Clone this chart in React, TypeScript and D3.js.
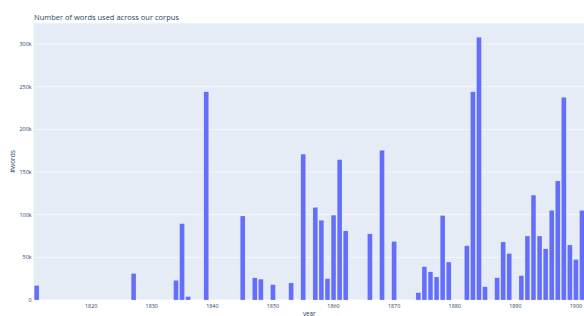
import React, { useEffect, useRef } from 'react';
import * as d3 from 'd3';

const years = [1811, 1827, 1834, 1835, 1836, 1839, 1845, 1847, 1848, 1850, 1853, 1855, 1857, 1858, 1859, 1860, 1861, 1862, 1866, 1868, 1870, 1874, 1875, 1876, 1877, 1878, 1879, 1882, 1883, 1884, 1885, 1887, 1888, 1889, 1891, 1892, 1893, 1894, 1895, 1896, 1897, 1898, 1899, 1900, 1901];
const words = [17000, 31000, 23000, 89500, 4000, 244000, 98500, 26000, 24500, 18000, 20000, 171000, 108500, 93500, 25000, 99500, 164500, 81000, 77500, 175500, 68500, 8500, 39000, 33000, 27000, 99000, 44500, 63500, 244000, 308000, 15500, 26000, 68000, 54500, 28500, 75000, 123000, 75000, 60000, 105000, 139500, 237500, 64500, 47500, 105000];
const xTicks = [1820, 1830, 1840, 1850, 1860, 1870, 1880, 1890, 1900];
const yTicks = [0, 50000, 100000, 150000, 200000, 250000, 300000];

const App: React.FC = () => {
  const svgRef = useRef<SVGSVGElement | null>(null);

  useEffect(() => {
    const width = 584;
    const height = 316;
    const marginTop = 23.3;
    const marginRight = -1;
    const marginBottom = 16;
    const marginLeft = 33.6;
    const font = '"Open Sans", verdana, arial, sans-serif';
    const textColor = '#2a3f5f';

    const svg = d3.select(svgRef.current);
    svg.selectAll('*').remove();
    svg.attr('viewBox', [0, 0, width, height]);

    const x = d3.scaleLinear()
      .domain([1810.5, 1901.5])
      .range([marginLeft, width - marginRight]);
    const y = d3.scaleLinear()
      .domain([0, 324300])
      .range([height - marginBottom, marginTop]);

    const step = x(1) - x(0);
    const bw = step * 0.8;

    // plot background
    svg.append('rect')
      .attr('x', marginLeft)
      .attr('y', marginTop)
      .attr('width', width - marginRight - marginLeft)
      .attr('height', height - marginBottom - marginTop)
      .attr('fill', '#E5ECF6');

    // grid
    svg.append('g')
      .selectAll('line')
      .data(yTicks)
      .join('line')
      .attr('x1', marginLeft)
      .attr('x2', width - marginRight)
      .attr('y1', d => y(d))
      .attr('y2', d => y(d))
      .attr('stroke', 'white')
      .attr('stroke-width', d => d === 0 ? 1 : 0.6);

    // bars
    svg.append('g')
      .selectAll('rect')
      .data(years.map((yr, i) => ({ yr, v: words[i] })))
      .join('rect')
      .attr('x', d => x(d.yr) - bw / 2)
      .attr('y', d => y(d.v))
      .attr('width', bw)
      .attr('height', d => y(0) - y(d.v))
      .attr('fill', '#636efa')
      .attr('stroke', '#E5ECF6')
      .attr('stroke-width', 0.25);

    // y tick labels
    svg.append('g')
      .selectAll('text')
      .data(yTicks)
      .join('text')
      .attr('x', marginLeft - 2)
      .attr('y', d => y(d))
      .attr('dy', '0.35em')
      .attr('text-anchor', 'end')
      .attr('font-family', font)
      .attr('font-size', 5.4)
      .attr('fill', textColor)
      .text(d => d3.format('~s')(d));

    // x tick labels
    svg.append('g')
      .selectAll('text')
      .data(xTicks)
      .join('text')
      .attr('x', d => x(d))
      .attr('y', height - marginBottom + 8)
      .attr('text-anchor', 'middle')
      .attr('font-family', font)
      .attr('font-size', 5.4)
      .attr('fill', textColor)
      .text(d => d);

    // axis titles
    svg.append('text')
      .attr('x', (marginLeft + width - marginRight) / 2)
      .attr('y', height - 0.5)
      .attr('text-anchor', 'middle')
      .attr('font-family', font)
      .attr('font-size', 6.3)
      .attr('fill', textColor)
      .text('year');

    svg.append('text')
      .attr('transform', `translate(14.5,${(marginTop + height - marginBottom) / 2}) rotate(-90)`)
      .attr('text-anchor', 'middle')
      .attr('font-family', font)
      .attr('font-size', 6.5)
      .attr('fill', textColor)
      .text('#words');

    // title
    svg.append('text')
      .attr('x', 34)
      .attr('y', 19.5)
      .attr('font-family', font)
      .attr('font-size', 7.5)
      .attr('fill', textColor)
      .text('Number of words used across our corpus');
  }, []);

  return (
    <svg
      ref={svgRef}
      width={584}
      height={316}
      style={{ position: 'absolute', left: 0, top: 0, background: 'white' }}
    ></svg>
  );
};

export default App;
